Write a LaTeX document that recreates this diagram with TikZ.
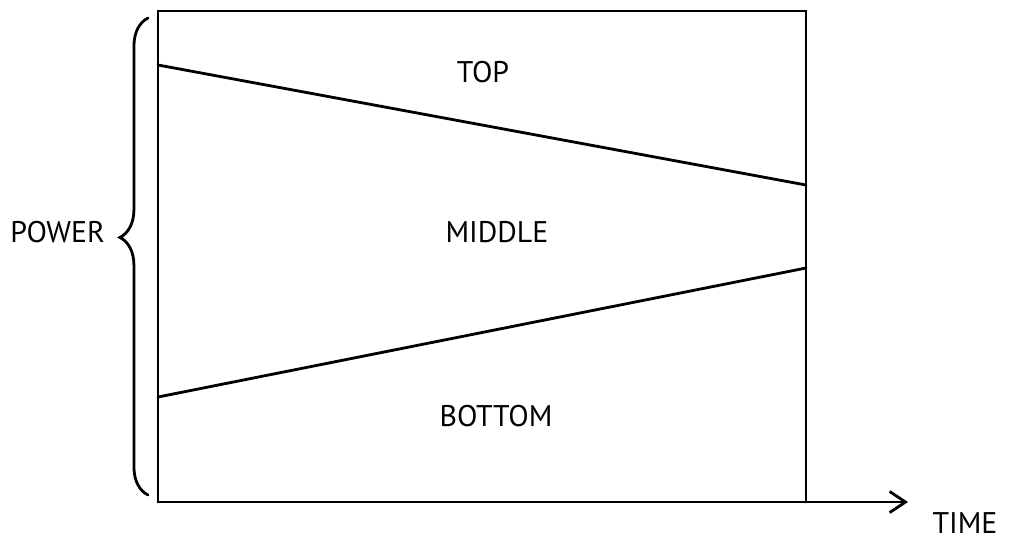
\documentclass[tikz,border=0pt]{standalone}
\usepackage{fontspec}
\setsansfont{PT Sans}
\usetikzlibrary{arrows.meta,decorations.pathreplacing}

\begin{document}
\begin{tikzpicture}[
    x=0.02cm,
    y=-0.02cm,
    pen/.style={
        draw,
        line width=1.6pt,
        line cap=round
    },
    label/.style={
        font=\sffamily\fontsize{17}{19}\selectfont,
        inner sep=0pt
    },
    axis/.style={
        pen,
        -{Straight Barb[length=9pt,width=12pt]}
    }
]
    \useasboundingbox (0,0) rectangle (1013,542);

    % Corners and line ends
    \coordinate (tl) at (158,11);
    \coordinate (tr) at (806,11);
    \coordinate (bl) at (158,502);
    \coordinate (br) at (806,502);
    \coordinate (upA) at (158,65);
    \coordinate (upB) at (806,185);
    \coordinate (loA) at (158,397);
    \coordinate (loB) at (806,268);
    \coordinate (tip) at (908,502);
    \coordinate (brA) at (148,495);
    \coordinate (brB) at (148,18);

    % Box
    \path [pen] (bl) -- (tl) -- (tr) -- (br);
    \path [axis] (bl) -- (tip);

    % Dividing lines
    \path [pen] (upA) -- (upB);
    \path [pen] (loA) -- (loB);

    % Brace
    \path [pen, decorate, decoration={brace, amplitude=16pt, aspect=0.54}] (brA) -- (brB);

    % Labels
    \node [label] (top) at (483,72) {TOP};
    \node [label] (middle) at (497,232) {MIDDLE};
    \node [label] (bottom) at (496,416) {BOTTOM};
    \node [label, anchor=west] (power) at (10,232) {POWER};
    \node [label] (time) at (965,523) {TIME};

\end{tikzpicture}
\end{document}
